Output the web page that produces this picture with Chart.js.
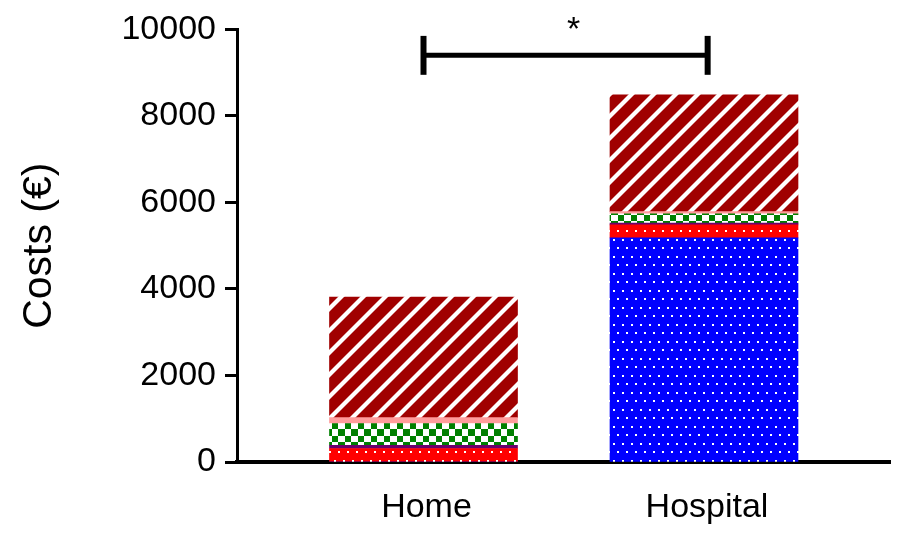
<!DOCTYPE html>
<html>
<head>
<meta charset="utf-8">
<script src="https://cdn.jsdelivr.net/npm/chart.js@4/dist/chart.umd.min.js"></script>
<style>
  html, body { margin: 0; padding: 0; background: #fff; }
  #wrap { width: 899px; height: 533px; }
</style>
</head>
<body>
<div id="wrap"><canvas id="c" width="899" height="533"></canvas></div>
<script>
// ---- data ----
const categories = ['Home', 'Hospital'];
const categoryPositions = [1, 2];
const seriesNames = ['Hospital stay', 'Medication', 'Diagnostics', 'Care', 'Transport', 'Other'];
const hospitalStayCosts = [0, 5180];
const medicationCosts = [313, 303];
const diagnosticsCosts = [75, 39];
const careCosts = [502, 212];
const transportCosts = [137, 55];
const otherCosts = [2786, 2701];
const yTicks = [0, 2000, 4000, 6000, 8000, 10000];
const bracketFrom = 1, bracketTo = 2.013;
const bracketLevel = 9400, bracketTop = 9850, bracketBottom = 8950;
const significance = '*';

// ---- patterns ----
const canvas = document.getElementById('c');
const ctx = canvas.getContext('2d');
function makePattern(w, h, draw) {
  const c = document.createElement('canvas');
  c.width = w; c.height = h;
  const g = c.getContext('2d');
  draw(g, w, h);
  return ctx.createPattern(c, 'repeat');
}
function dots(bg) {
  return makePattern(9, 17, (g, w, h) => {
    g.fillStyle = bg; g.fillRect(0, 0, w, h);
    g.fillStyle = '#ffffff';
    g.fillRect(1, 1, 2, 2);
    g.fillRect(5, 9, 2, 2);
  });
}
const bluePat = dots('#0000ff');
const redPat = dots('#ff0000');
const checkPat = makePattern(13, 13, (g, w, h) => {
  g.fillStyle = '#ffffff'; g.fillRect(0, 0, w, h);
  g.fillStyle = '#008000';
  g.fillRect(0, 0, 7, 7);
  g.fillRect(7, 7, 6, 6);
});
const hatchPat = makePattern(22, 22, (g, w, h) => {
  g.fillStyle = '#a00000'; g.fillRect(0, 0, w, h);
  g.strokeStyle = '#ffffff'; g.lineWidth = 4.2;
  for (let k = -1; k <= 1; k++) {
    g.beginPath();
    g.moveTo(k * w - 3, h + 3);
    g.lineTo(k * w + w + 3, -3);
    g.stroke();
  }
});

const series = [hospitalStayCosts, medicationCosts, diagnosticsCosts, careCosts, transportCosts, otherCosts];
const fills = [bluePat, redPat, '#6b006b', checkPat, '#ff9c9c', hatchPat];

const datasets = series.map((vals, i) => ({
  label: seriesNames[i],
  data: vals.map((v, j) => ({ x: categoryPositions[j], y: v })),
  backgroundColor: fills[i],
  borderWidth: 0,
  barThickness: 188
}));

const FONT = "'Liberation Sans', Arial, Helvetica, sans-serif";

const bracketPlugin = {
  id: 'bracket',
  afterDatasetsDraw(chart) {
    const { ctx } = chart;
    const xs = chart.scales.x, ys = chart.scales.y;
    const x1 = xs.getPixelForValue(bracketFrom);
    const x2 = xs.getPixelForValue(bracketTo);
    const yl = ys.getPixelForValue(bracketLevel);
    const yt = ys.getPixelForValue(bracketTop);
    const yb = ys.getPixelForValue(bracketBottom);
    ctx.save();
    ctx.strokeStyle = '#000';
    ctx.lineCap = 'butt';
    ctx.lineWidth = 5;
    ctx.beginPath(); ctx.moveTo(x1, yl); ctx.lineTo(x2, yl); ctx.stroke();
    ctx.lineWidth = 6;
    ctx.beginPath(); ctx.moveTo(x1, yt); ctx.lineTo(x1, yb); ctx.stroke();
    ctx.beginPath(); ctx.moveTo(x2, yt); ctx.lineTo(x2, yb); ctx.stroke();
    ctx.fillStyle = '#000';
    ctx.font = '34px ' + FONT;
    ctx.textAlign = 'center';
    ctx.textBaseline = 'alphabetic';
    ctx.fillText(significance, (x1 + x2) / 2 + 8, yt + 4);
    ctx.restore();
  }
};

new Chart(ctx, {
  type: 'bar',
  data: { datasets },
  plugins: [bracketPlugin],
  options: {
    responsive: false,
    animation: false,
    events: [],
    layout: { padding: { top: 24, right: 9, bottom: 0, left: 0 } },
    plugins: { legend: { display: false }, tooltip: { enabled: false } },
    scales: {
      x: {
        type: 'linear',
        stacked: true,
        offset: false,
        min: 0.3351,
        max: 2.6631,
        afterBuildTicks: (s) => { s.ticks = categoryPositions.map(v => ({ value: v })); },
        afterFit: (s) => { s.height = 71; },
        grid: { display: false, drawTicks: false, offset: false },
        border: { display: true, color: '#000', width: 4 },
        ticks: {
          autoSkip: false,
          maxRotation: 0,
          padding: 25,
          labelOffset: 3,
          color: '#000',
          font: { family: FONT, size: 34 },
          callback: (v) => categories[categoryPositions.indexOf(v)] ?? ''
        }
      },
      y: {
        stacked: true,
        min: 0,
        max: 10000,
        afterBuildTicks: (s) => { s.ticks = yTicks.map(v => ({ value: v })); },
        afterFit: (s) => { s.width = 237; },
        grid: { display: true, drawOnChartArea: false, drawTicks: true, tickLength: 12, tickWidth: 3, tickColor: '#000' },
        border: { display: true, color: '#000', width: 3 },
        ticks: {
          padding: 9,
          color: '#000',
          font: { family: FONT, size: 34 },
          callback: (v) => String(v)
        },
        title: {
          display: true,
          text: 'Costs (€)',
          color: '#000',
          font: { family: FONT, size: 41 },
          padding: { top: 15, bottom: 0 }
        }
      }
    }
  }
});
</script>
</body>
</html>
